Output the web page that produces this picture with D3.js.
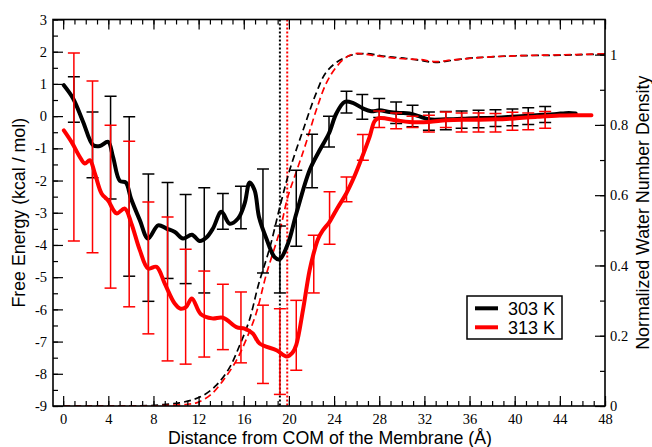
<!DOCTYPE html>
<html>
<head>
<meta charset="utf-8">
<script src="https://cdnjs.cloudflare.com/ajax/libs/d3/7.8.5/d3.min.js"></script>
<style>
  body { margin: 0; background: #fff; }
  .tick line { stroke: #000; stroke-width: 1.2; }
</style>
</head>
<body>
<div id="chart"></div>
<script>
// free energy profiles, [distance, kcal/mol]
var fe303 = [[0.06,0.96],[0.88,0.55],[1.77,-0.18],[2.65,-0.9],[3.25,-0.93],[3.98,-0.8],[4.42,-1.27],[5.02,-2.01],
  [5.55,-2.06],[6.0,-2.55],[6.79,-3.23],[7.52,-3.8],[8.41,-3.39],[9.15,-3.49],[9.9,-3.6],[10.62,-3.8],[11.4,-3.68],
  [12.1,-3.88],[12.69,-3.77],[13.27,-3.49],[14.02,-2.97],[14.75,-3.34],[15.49,-3.18],[16.08,-2.71],[16.52,-2.06],
  [16.96,-2.3],[17.35,-3.13],[18.0,-3.8],[18.73,-4.38],[19.17,-4.45],[19.91,-3.96],[20.65,-3.03],[21.83,-1.68],
  [22.72,-1.06],[23.54,-0.54],[24.2,0.08],[24.93,0.44],[25.66,0.41],[26.55,0.24],[27.29,0.15],[28.03,0.18],
  [28.91,0.13],[29.8,0.1],[30.68,0.08],[31.5,0.0],[32.4,-0.1],[33.9,-0.1],[35.4,-0.08],[36.9,-0.06],[38.4,-0.05],
  [39.8,-0.02],[41.9,0.03],[43.5,0.06],[44.8,0.1],[45.4,0.08]];

var fe313 = [[0.06,-0.44],[0.74,-0.8],[1.48,-1.27],[1.92,-1.47],[2.36,-1.37],[2.81,-1.78],[3.4,-2.4],[3.98,-2.62],
  [4.73,-3.02],[5.46,-2.87],[6.05,-3.34],[6.79,-4.16],[7.52,-4.73],[8.27,-4.68],[9.0,-5.2],[9.88,-5.82],[10.4,-5.98],
  [10.9,-5.92],[11.4,-5.66],[12.2,-6.15],[13.2,-6.28],[14.16,-6.26],[15.35,-6.55],[16.08,-6.6],[16.8,-6.75],
  [17.4,-7.06],[18.9,-7.27],[19.8,-7.46],[20.3,-7.35],[20.65,-7.1],[21.24,-6.03],[21.83,-4.79],[22.27,-4.16],
  [22.6,-3.8],[23.0,-3.55],[23.6,-3.28],[24.3,-2.85],[25.08,-2.4],[25.7,-1.95],[26.26,-1.47],[27.14,-0.65],
  [27.6,-0.15],[28.0,-0.06],[29.5,-0.13],[30.68,-0.18],[32.4,-0.18],[33.9,-0.13],[35.4,-0.11],[36.9,-0.11],
  [38.3,-0.1],[40.0,-0.07],[42.0,-0.02],[44.0,0.02],[45.5,0.03],[46.8,0.03]];

// error bars, [distance, low, high]
var err303 = [[0.95,-0.19,1.22],[2.6,-1.91,0.13],[4.2,-2.57,0.62],[5.85,-4.97,-0.02],[7.55,-5.75,-1.8],
  [9.25,-5.04,-2.06],[10.85,-5.2,-2.43],[12.5,-5.49,-2.22],[14.15,-3.51,-2.4],[15.75,-3.5,-2.18],
  [17.7,-4.87,-1.64],[19.2,-5.49,-3.41],[20.65,-4.04,-1.68],[22.05,-2.22,-0.56],[23.55,-0.96,0.0],
  [25.1,0.1,0.77],[26.5,-0.1,0.67],[28.0,-0.04,0.55],[29.5,-0.23,0.44],[30.95,-0.33,0.34],[32.4,-0.44,0.13],
  [33.9,-0.42,0.14],[35.3,-0.38,0.16],[36.8,-0.36,0.18],[38.3,-0.32,0.2],[39.8,-0.3,0.22],[41.2,-0.26,0.26],
  [42.7,-0.2,0.3]];

var err313 = [[0.95,-3.88,1.96],[2.6,-4.24,1.09],[4.2,-5.34,-0.28],[5.85,-5.92,-0.78],[7.55,-6.76,-2.67],
  [9.25,-7.6,-3.13],[10.85,-7.7,-4.13],[12.5,-7.48,-4.81],[14.15,-7.25,-5.22],[15.75,-7.66,-5.46],
  [17.7,-8.3,-5.87],[19.2,-8.64,-5.98],[20.65,-7.89,-5.72],[22.2,-5.49,-3.7],[23.6,-3.98,-2.35],
  [25.1,-2.66,-1.89],[26.55,-1.37,-0.57],[28.0,-0.35,0.16],[29.5,-0.39,0.1],[30.95,-0.35,0.0],[32.4,-0.49,0.03],
  [33.9,-0.35,0.13],[35.3,-0.49,0.1],[36.8,-0.49,0.1],[38.3,-0.49,0.08],[39.8,-0.44,0.12],[41.2,-0.42,0.1],
  [42.7,-0.38,0.14]];

// normalized water number density, [distance, density]
var dens303 = [[0,0],[6,0],[7.5,0.001],[8.85,0.004],[10.3,0.009],[11.5,0.018],[12.4,0.03],[13.6,0.06],
  [14.75,0.11],[15.6,0.17],[16.5,0.245],[17.3,0.345],[18.3,0.45],[19.3,0.58],[20.1,0.675],[21.25,0.785],
  [22.4,0.889],[23.3,0.95],[24.5,0.984],[25.7,1.0],[26.8,1.003],[28.6,0.995],[30.4,0.989],[31.6,0.984],
  [33.0,0.978],[34.5,0.984],[36,0.99],[37.5,0.993],[40.4,0.997],[43.4,0.998],[46,1.0],[48,1.002]];

var dens313 = [[0,0],[8,0],[9.5,0.002],[11.0,0.005],[11.8,0.009],[13,0.03],[14.16,0.072],[15.35,0.13],
  [16.2,0.188],[17.1,0.264],[18.0,0.375],[19.2,0.5],[19.9,0.595],[20.8,0.68],[21.5,0.747],[22.4,0.84],
  [23.3,0.918],[24.2,0.965],[25.1,0.993],[25.9,1.003],[27.4,0.998],[29.8,0.989],[31.6,0.986],[33,0.98],
  [34.5,0.985],[37.5,0.993],[40.4,0.997],[43.4,0.999],[48,1.002]];

// free energy minima
var minima = [19.2, 19.85];

var seriesNames = ["303 K", "313 K"];
var seriesColors = ["#000000", "#ff0000"];

var xTicks = [0, 4, 8, 12, 16, 20, 24, 28, 32, 36, 40, 44, 48];
var yTicks = [-9, -8, -7, -6, -5, -4, -3, -2, -1, 0, 1, 2, 3];
var y2Ticks = [0, 0.2, 0.4, 0.6, 0.8, 1];

// set the dimensions of the plot box
var W = 652, H = 447,
    pLeft = 53, pRight = 605, pTop = 19.5, pBottom = 406;

var svg = d3.select("#chart")
  .append("svg")
    .attr("width", W)
    .attr("height", H);

var x = d3.scaleLinear().domain([-0.9, 48]).range([pLeft, pRight]);
var y = d3.scaleLinear().domain([-9, 3]).range([pBottom, pTop]);
var y2 = d3.scaleLinear().domain([0, 1.1]).range([pBottom, pTop]);

svg.append("clipPath").attr("id", "clip")
  .append("rect")
    .attr("x", pLeft).attr("y", pTop)
    .attr("width", pRight - pLeft).attr("height", pBottom - pTop);

var plot = svg.append("g").attr("clip-path", "url(#clip)");

var lineL = d3.line()
  .x(function(d) { return x(d[0]); })
  .y(function(d) { return y(d[1]); })
  .curve(d3.curveCatmullRom.alpha(0.5));

var lineR = d3.line()
  .x(function(d) { return x(d[0]); })
  .y(function(d) { return y2(d[1]); })
  .curve(d3.curveCatmullRom.alpha(0.5));

// dotted lines at the minima
plot.selectAll(".minline")
  .data(minima)
  .enter()
  .append("line")
    .attr("x1", function(d) { return x(d); })
    .attr("x2", function(d) { return x(d); })
    .attr("y1", pTop)
    .attr("y2", pBottom)
    .attr("stroke", function(d, i) { return seriesColors[i]; })
    .attr("stroke-width", 2)
    .attr("stroke-dasharray", "2,2");

// density (dashed)
[dens303, dens313].forEach(function(d, i) {
  plot.append("path")
    .datum(d)
    .attr("d", lineR)
    .attr("fill", "none")
    .attr("stroke", seriesColors[i])
    .attr("stroke-width", 1.7)
    .attr("stroke-dasharray", "7,4");
});

// free energy + error bars
[[fe303, err303], [fe313, err313]].forEach(function(s, i) {
  var col = seriesColors[i];
  var g = plot.append("g");
  var bars = g.selectAll(".eb")
    .data(s[1])
    .enter()
    .append("g");
  bars.append("line")
    .attr("x1", function(d) { return x(d[0]); })
    .attr("x2", function(d) { return x(d[0]); })
    .attr("y1", function(d) { return y(d[1]); })
    .attr("y2", function(d) { return y(d[2]); })
    .attr("stroke", col).attr("stroke-width", 1.5);
  bars.append("line")
    .attr("x1", function(d) { return x(d[0]) - 6; })
    .attr("x2", function(d) { return x(d[0]) + 6; })
    .attr("y1", function(d) { return y(d[1]); })
    .attr("y2", function(d) { return y(d[1]); })
    .attr("stroke", col).attr("stroke-width", 1.5);
  bars.append("line")
    .attr("x1", function(d) { return x(d[0]) - 6; })
    .attr("x2", function(d) { return x(d[0]) + 6; })
    .attr("y1", function(d) { return y(d[2]); })
    .attr("y2", function(d) { return y(d[2]); })
    .attr("stroke", col).attr("stroke-width", 1.5);
  g.append("path")
    .datum(s[0])
    .attr("d", lineL)
    .attr("fill", "none")
    .attr("stroke", col)
    .attr("stroke-width", 4)
    .attr("stroke-linejoin", "round")
    .attr("stroke-linecap", "round");
});

// axes, ticks pointing inward
function fmt(d) { return String(d); }

function styleAxis(g) {
  g.selectAll(".domain").remove();
  g.attr("font-family", "'Liberation Serif', 'Times New Roman', serif")
   .attr("font-size", 14.5);
  g.selectAll(".tick text").attr("fill", "#000");
}

svg.append("g")
  .attr("transform", "translate(" + pLeft + ",0)")
  .call(d3.axisLeft(y).tickValues(d3.range(-9, 3.01, 0.5)).tickSize(-5).tickFormat(""))
  .call(styleAxis);
svg.append("g")
  .attr("transform", "translate(" + pLeft + ",0)")
  .call(d3.axisLeft(y).tickValues(yTicks).tickSize(-10).tickPadding(6).tickFormat(fmt))
  .call(styleAxis);

svg.append("g")
  .attr("transform", "translate(" + pRight + ",0)")
  .call(d3.axisRight(y2).tickValues(d3.range(0, 11).map(function(i) { return i / 10; })).tickSize(-5).tickFormat(""))
  .call(styleAxis);
svg.append("g")
  .attr("transform", "translate(" + pRight + ",0)")
  .call(d3.axisRight(y2).tickValues(y2Ticks).tickSize(-10).tickPadding(5).tickFormat(fmt))
  .call(styleAxis);

svg.append("g")
  .attr("transform", "translate(0," + pBottom + ")")
  .call(d3.axisBottom(x).tickValues(d3.range(0, 49)).tickSize(-5).tickFormat(""))
  .call(styleAxis);
svg.append("g")
  .attr("transform", "translate(0," + pBottom + ")")
  .call(d3.axisBottom(x).tickValues(xTicks).tickSize(-10).tickPadding(8).tickFormat(fmt))
  .call(styleAxis);

svg.append("g")
  .attr("transform", "translate(0," + pTop + ")")
  .call(d3.axisTop(x).tickValues(d3.range(0, 49)).tickSize(-5).tickFormat(""))
  .call(styleAxis);
svg.append("g")
  .attr("transform", "translate(0," + pTop + ")")
  .call(d3.axisTop(x).tickValues(xTicks).tickSize(-10).tickFormat(""))
  .call(styleAxis);

// frame
svg.append("rect")
  .attr("x", pLeft).attr("y", pTop)
  .attr("width", pRight - pLeft).attr("height", pBottom - pTop)
  .attr("fill", "none")
  .attr("stroke", "#000")
  .attr("stroke-width", 1.6);

// axis titles
var titleFont = "'Liberation Sans', Arial, sans-serif";
svg.append("text")
  .attr("x", (pLeft + pRight) / 2 + 1)
  .attr("y", 444)
  .attr("text-anchor", "middle")
  .style("font-family", titleFont)
  .style("font-size", "17.8px")
  .text("Distance from COM of the Membrane (Å)");

svg.append("text")
  .attr("transform", "translate(25," + (pTop + pBottom) / 2 + ")rotate(-90)")
  .attr("text-anchor", "middle")
  .style("font-family", titleFont)
  .style("font-size", "17.8px")
  .text("Free Energy (kcal / mol)");

svg.append("text")
  .attr("transform", "translate(649," + (pTop + pBottom) / 2 + ")rotate(-90)")
  .attr("text-anchor", "middle")
  .style("font-family", titleFont)
  .style("font-size", "17.8px")
  .text("Normalized Water Number Density");

// legend
var legend = svg.append("g");
legend.append("rect")
  .attr("x", 467).attr("y", 296)
  .attr("width", 95).attr("height", 43)
  .attr("fill", "#fff")
  .attr("stroke", "#000")
  .attr("stroke-width", 1.5);

seriesNames.forEach(function(name, i) {
  var ly = 308.3 + i * 19;
  legend.append("line")
    .attr("x1", 475).attr("x2", 498)
    .attr("y1", ly).attr("y2", ly)
    .attr("stroke", seriesColors[i])
    .attr("stroke-width", 4);
  legend.append("text")
    .attr("x", 508)
    .attr("y", ly + 6.7)
    .style("font-family", titleFont)
    .style("font-size", "18px")
    .text(name);
});
</script>
</body>
</html>
